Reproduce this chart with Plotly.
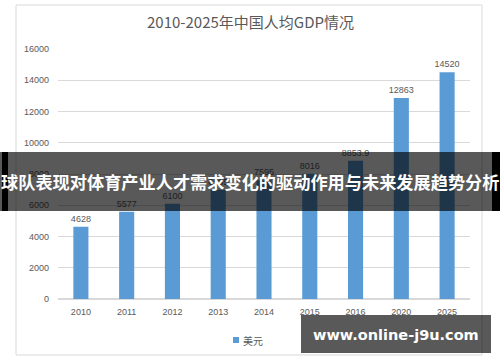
import plotly.graph_objects as go

years = ["2010", "2011", "2012", "2013", "2014", "2015", "2016", "2020", "2025"]
gdp_usd = [4628, 5577, 6100, 6995, 7595, 8016, 8853.9, 12863, 14520]
series_name = "美元"
chart_title = "2010-2025年中国人均GDP情况"
banner_text = "球队表现对体育产业人才需求变化的驱动作用与未来发展趋势分析"
watermark_text = "www.online-j9u.com"

W, H = 500, 362
L, R, T, B = 58, 470, 49, 299  # plot area in pixels

def px(x):
    return (x - L) / (R - L)

def py(y):
    return (B - y) / (B - T)

num_font = "Liberation Sans, Noto Sans CJK SC, sans-serif"
cjk_font = "Noto Sans CJK SC, sans-serif"
grey = "#595959"
blue = "#5B9BD5"

labels = [f"{v:g}" for v in gdp_usd]

fig = go.Figure()
fig.add_trace(go.Bar(
    x=years, y=gdp_usd, name=series_name,
    marker=dict(color=blue, line=dict(width=0)),
    text=labels, textposition="outside", cliponaxis=False, constraintext="none",
    textfont=dict(family=num_font, size=9, color=grey),
    showlegend=False,
))

shapes = [
    # outer chart border
    dict(type="rect", xref="paper", yref="paper", x0=px(16), x1=px(482), y0=py(5), y1=py(355),
         line=dict(color="#d9d9d9", width=1), fillcolor="rgba(0,0,0,0)", layer="below"),
    # legend swatch
    dict(type="rect", xref="paper", yref="paper", x0=px(233), x1=px(239), y0=py(337), y1=py(343),
         line=dict(width=0), fillcolor=blue),
    # banner
    dict(type="rect", xref="paper", yref="paper", x0=px(0), x1=px(500), y0=py(152), y1=py(211),
         line=dict(width=0), fillcolor="rgba(0,0,0,0.65)", layer="above"),
    dict(type="rect", xref="paper", yref="paper", x0=px(2), x1=px(8), y0=py(152), y1=py(211),
         line=dict(width=0), fillcolor="#000000", layer="above"),
    dict(type="rect", xref="paper", yref="paper", x0=px(492), x1=px(500), y0=py(152), y1=py(211),
         line=dict(width=0), fillcolor="#000000", layer="above"),
    # watermark box
    dict(type="rect", xref="paper", yref="paper", x0=px(301), x1=px(491), y0=py(315), y1=py(353),
         line=dict(width=0), fillcolor="rgba(0,0,0,0.65)", layer="above"),
]

annotations = [
    dict(text=chart_title, xref="paper", yref="paper", x=px(250), y=py(22), showarrow=False,
         xanchor="center", yanchor="middle", font=dict(family=cjk_font, size=15, color=grey)),
    dict(text=series_name, xref="paper", yref="paper", x=px(241), y=py(340), showarrow=False,
         xanchor="left", yanchor="middle", font=dict(family=cjk_font, size=10, color=grey)),
    dict(text=banner_text, xref="paper", yref="paper", x=px(249.5), y=py(181), showarrow=False,
         xanchor="center", yanchor="middle", font=dict(family=cjk_font, size=17.2, color="white", weight="bold")),
    dict(text=watermark_text, xref="paper", yref="paper", x=px(396), y=py(335), showarrow=False,
         xanchor="center", yanchor="middle", font=dict(family="DejaVu Sans, sans-serif", size=14.5, color="white", weight="bold")),
]

fig.update_layout(
    width=W, height=H,
    margin=dict(l=L, r=W - R, t=T, b=H - B, pad=0),
    paper_bgcolor="white", plot_bgcolor="white",
    showlegend=False,
    bargap=0.67,
    shapes=shapes, annotations=annotations,
    xaxis=dict(type="category", showgrid=False, showline=False, ticks="",
               tickfont=dict(family=num_font, size=9, color=grey), ticklabelstandoff=6),
    yaxis=dict(range=[0, 16000], dtick=2000, tickformat="d", showgrid=True, gridcolor="#d9d9d9", gridwidth=1,
               zeroline=True, zerolinecolor="#d9d9d9", showline=False, ticks="",
               tickfont=dict(family=num_font, size=9, color=grey), ticklabelstandoff=8),
)

fig.write_html("out.html", config={"displayModeBar": False},
               post_script="document.body.style.margin='0';document.body.style.padding='0';")
